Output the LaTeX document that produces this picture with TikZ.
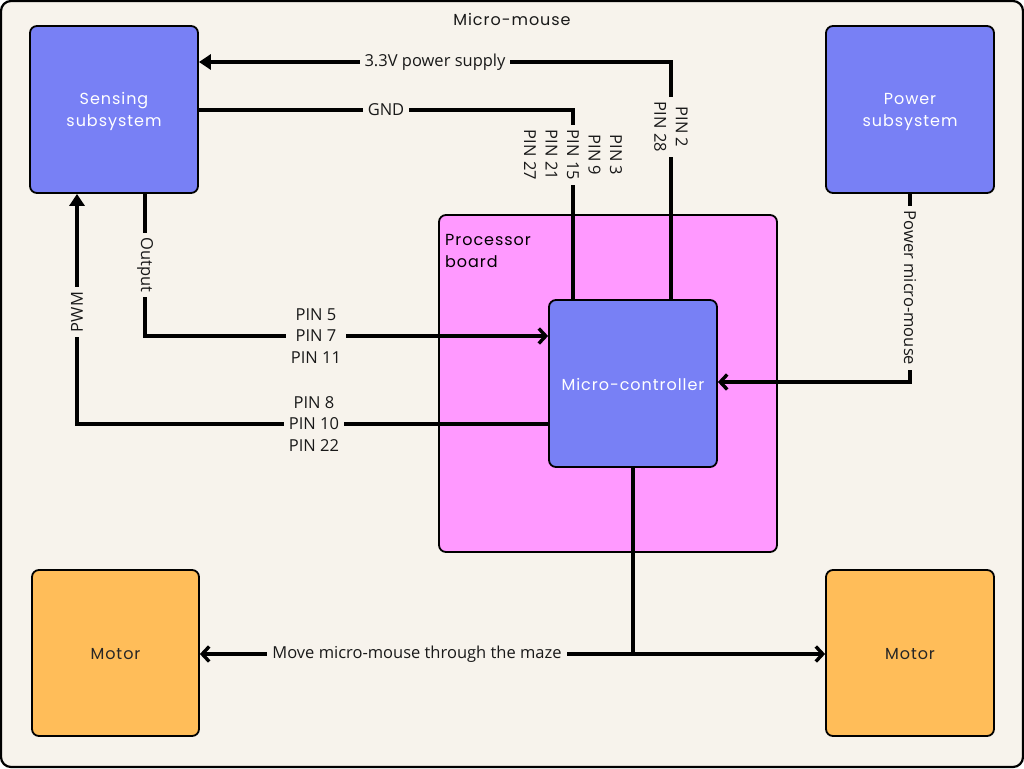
\documentclass[tikz,border=0pt]{standalone}
\usepackage{fontspec}
\setmainfont{Open Sans}
\newfontfamily\boxfont{Poppins}[LetterSpace=6]
\usetikzlibrary{arrows.meta,calc}
\definecolor{bgc}{HTML}{F7F3EC}
\definecolor{blu}{HTML}{7880F5}
\definecolor{pnk}{HTML}{FF99FF}
\definecolor{org}{HTML}{FFBD59}
\begin{document}
\begin{tikzpicture}[x=1pt,y=-1pt,
  blk/.style={draw=black,line width=1.8pt,rounded corners=7pt,inner sep=0pt,
    font=\boxfont\fontsize{16}{22}\selectfont,align=center},
  bluebox/.style={blk,fill=blu,text=white,minimum width=168pt,minimum height=167pt},
  motorbox/.style={blk,fill=org,text=black!85,minimum width=167pt,minimum height=166pt},
  boxtext/.style={font=\boxfont\fontsize{16}{22}\selectfont,align=center,inner sep=0pt},
  conn/.style={line width=3.4pt,line cap=butt},
  lbl/.style={fill=bgc,inner xsep=5pt,inner ysep=2pt,align=center,
    font=\fontsize{16.5}{21.5}\selectfont,text=black!90},
  fillarr/.style={-{Triangle[length=12pt,width=15pt]}},
  opnarr/.style={-{Straight Barb[length=7pt,width=15pt,line width=3.4pt]}}
]
\useasboundingbox (0,0) rectangle (1024,768);
\draw[fill=bgc,line width=2.2pt,rounded corners=10pt] (1,1) rectangle (1023,767);
\node[font=\boxfont\fontsize{16}{20}\selectfont,text=black!90] (title) at (512,19) {Micro-mouse};

\node[bluebox] (sens) at (114,109.5) {};
\node[boxtext,text=white] (senst) at (114,111.5) {Sensing\\subsystem};
\node[bluebox] (pow) at (910,109.5) {};
\node[boxtext,text=white] (powt) at (910,111.5) {Power\\subsystem};
\node[blk,fill=pnk,minimum width=338pt,minimum height=337pt] (proc) at (608,383.5) {};
\node[font=\boxfont\fontsize{16}{22}\selectfont,align=left,anchor=north west,inner sep=0pt] (proclbl) at (445,234) {Processor\\board};
\node[bluebox] (mcu) at (633,383.5) {};
\node[boxtext,text=white] (mcut) at (633,384.5) {Micro-controller};
\node[motorbox] (motl) at (115.5,653) {};
\node[boxtext,text=black!85] (motlt) at (115.5,654) {Motor};
\node[motorbox,minimum width=168pt] (motr) at (910,653) {};
\node[boxtext,text=black!85] (motrt) at (910,654) {Motor};

% coordinates
\coordinate (c33) at (671,62);
\coordinate (cgnd) at (573,110);
\coordinate (cout) at (145,336);
\coordinate (cpwm) at (77,424);
\coordinate (cpm) at (910,382);
\coordinate (cmv) at (633,654);

% 3.3V
\draw[conn,fillarr] (mcu.north -| c33) -- (c33) -- (sens.east |- c33);
% GND
\draw[conn] (sens.east |- cgnd) -- (cgnd) -- (mcu.north -| cgnd);
% Output
\draw[conn,opnarr] (sens.south -| cout) -- (cout) -- (mcu.west |- cout);
% PWM
\draw[conn,fillarr] (mcu.west |- cpwm) -- (cpwm) -- (sens.south -| cpwm);
% Power micro-mouse
\draw[conn,opnarr] (pow.south -| cpm) -- (cpm) -- (mcu.east |- cpm);
% Motors
\draw[conn] (mcu.south -| cmv) -- (cmv);
\draw[conn,opnarr] (cmv) -- (motl.east |- cmv);
\draw[conn,opnarr] (cmv) -- (motr.west |- cmv);

% labels
\node[lbl] (l33) at (435,62) {3.3V power supply};
\node[lbl] (lgnd) at (386,110) {GND};
\node[lbl,rotate=-90] (lp2) at (671,127) {PIN 2\\PIN 28};
\node[lbl,rotate=-90] (lp3) at (573,155) {PIN 3\\PIN 9\\PIN 15\\PIN 21\\PIN 27};
\node[lbl,rotate=-90] (lout) at (145,265) {Output};
\node[lbl,rotate=90] (lpwm) at (77,312) {PWM};
\node[lbl,rotate=-90] (lpm) at (910,288) {Power micro-mouse};
\node[lbl] (lp5) at (316,336) {PIN 5\\PIN 7\\PIN 11};
\node[lbl] (lp8) at (314,424) {PIN 8\\PIN 10\\PIN 22};
\node[lbl] (lmv) at (417,654) {Move micro-mouse through the maze};
\end{tikzpicture}
\end{document}
